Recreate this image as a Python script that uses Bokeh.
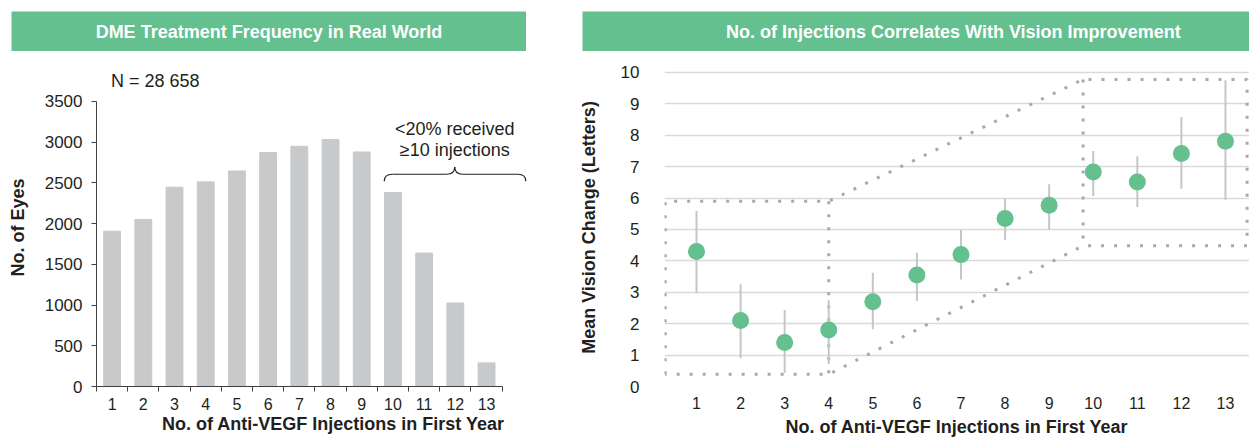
from bokeh.plotting import figure
from bokeh.layouts import row, column
from bokeh.models import FixedTicker, Spacer, Range1d
from bokeh.core.properties import value
from bokeh.embed import file_html
from bokeh.resources import INLINE

# ---------------- data ----------------
injections = [1, 2, 3, 4, 5, 6, 7, 8, 9, 10, 11, 12, 13]
eyes = [1907, 2051, 2447, 2512, 2646, 2872, 2949, 3031, 2879, 2382, 1638, 1025, 290]
vision_mean = [4.3, 2.1, 1.4, 1.8, 2.7, 3.55, 4.2, 5.35, 5.77, 6.83, 6.51, 7.42, 7.81]
vision_low = [2.97, 0.9, 0.43, 0.72, 1.82, 2.72, 3.41, 4.66, 4.98, 6.07, 5.72, 6.3, 5.95]
vision_high = [5.59, 3.26, 2.44, 2.75, 3.62, 4.26, 4.98, 5.99, 6.44, 7.5, 7.33, 8.58, 9.75]

eyes_ticks = [0, 500, 1000, 1500, 2000, 2500, 3000, 3500]
vision_ticks = [0, 1, 2, 3, 4, 5, 6, 7, 8, 9, 10]

left_title = "DME Treatment Frequency in Real World"
right_title = "No. of Injections Correlates With Vision Improvement"
x_title = "No. of Anti-VEGF Injections in First Year"
left_y_title = "No. of Eyes"
right_y_title = "Mean Vision Change (Letters)"
n_note = "N = 28 658"
bracket_note = ["<20% received", "\u226510 injections"]

# dotted guide (two boxes joined by a funnel)
low_box_x = [0.29, 4.0]
low_box_y = [0.39, 5.9]
high_box_x = [9.77, 13.49]
high_box_y = [4.48, 9.78]

# brace over the >=10 bars
brace_x = [9.72, 11.98, 14.26]   # left end, peak, right end
brace_y = [2520, 2606, 2695]     # ends, body, peak
note_x = [11.98, 11.98, 2.38]
note_y = [3166, 2908, 3745]

# ---------------- style ----------------
FONT = "Liberation Sans"
TXT = "#231f20"
GREEN = "#64c08e"
BAR = "#c8c9cb"
GRID = "#d9d9d9"
DOT = "#a9a9a9"


def banner(w, text, xpos):
    b = figure(width=w, height=40, x_range=Range1d(0, 1), y_range=Range1d(0, 1),
               toolbar_location=None, output_backend="svg", min_border=0,
               x_axis_location=None, y_axis_location=None,
               background_fill_color=GREEN, border_fill_color=GREEN,
               outline_line_color=None)
    b.grid.visible = False
    b.text(x=[xpos], y=[0.5], text=[text], text_color="white",
           text_font=value(FONT), text_font_style="bold", text_font_size="18px",
           text_align="center", text_baseline="middle")
    return b


def style_axis(ax, size):
    ax.major_label_text_font = FONT
    ax.major_label_text_font_size = size
    ax.major_label_text_color = TXT
    ax.axis_label_text_font = FONT
    ax.axis_label_text_font_size = "18px"
    ax.axis_label_text_font_style = "bold"
    ax.axis_label_text_color = TXT


# ---------------- left: bar chart ----------------
p1 = figure(width=570, height=388, x_range=Range1d(0.5, 15.69), y_range=Range1d(0, 3904),
            toolbar_location=None, output_backend="svg",
            min_border_left=96, min_border_right=0, min_border_top=17, min_border_bottom=52,
            outline_line_color=None, background_fill_color="white")
p1.grid.visible = False
p1.vbar(x=injections, top=eyes, width=0.54, color=BAR)

xa = p1.xaxis[0]
xa.bounds = (injections[0] - 0.5, injections[-1] + 0.5)
xa.ticker = FixedTicker(ticks=injections,
                        minor_ticks=[v - 0.5 for v in injections] + [injections[-1] + 0.5])
xa.major_tick_out = 0
xa.major_tick_in = 0
xa.minor_tick_out = 5
xa.minor_tick_in = 0
xa.minor_tick_line_color = "#404040"
xa.axis_line_color = "#404040"
xa.major_label_standoff = 6
xa.axis_label = x_title
xa.axis_label_standoff = 1
style_axis(xa, "16px")

ya = p1.yaxis[0]
ya.bounds = (eyes_ticks[0], eyes_ticks[-1])
ya.ticker = FixedTicker(ticks=eyes_ticks, minor_ticks=[])
ya.major_tick_out = 5
ya.major_tick_in = 0
ya.major_tick_line_color = "#404040"
ya.axis_line_color = "#404040"
ya.major_label_standoff = 9
ya.axis_label = left_y_title
ya.axis_label_standoff = 14
style_axis(ya, "17px")

# brace
lx, mx, rx = brace_x
ey, by, py = brace_y
c = 0.26
p1.quadratic(x0=[lx, mx - c, mx, rx - c], y0=[ey, by, py, by],
             x1=[lx + c, mx, mx + c, rx], y1=[by, py, by, ey],
             cx=[lx, mx, mx, rx], cy=[by, by, by, by],
             line_color=TXT, line_width=1.2)
p1.segment(x0=[lx + c, mx + c], y0=[by, by], x1=[mx - c, rx - c], y1=[by, by],
           line_color=TXT, line_width=1.2)
p1.text(x=note_x, y=note_y, text=bracket_note + [n_note],
        text_font=value(FONT), text_font_size="18px", text_color=TXT,
        text_align="center", text_baseline="middle")

# ---------------- right: mean change with error bars ----------------
p2 = figure(width=679, height=388, x_range=Range1d(0.274, 13.545), y_range=Range1d(0, 10.127),
            toolbar_location=None, output_backend="svg",
            min_border_left=94, min_border_right=0, min_border_top=17, min_border_bottom=52,
            outline_line_color=None, background_fill_color="white")
p2.xgrid.visible = False
p2.ygrid.ticker = FixedTicker(ticks=vision_ticks)
p2.ygrid.grid_line_color = GRID
p2.ygrid.grid_line_width = 1.3

# dotted guide
bx0, bx1 = low_box_x
by0, by1 = low_box_y
hx0, hx1 = high_box_x
hy0, hy1 = high_box_y
p2.multi_line(xs=[[bx0, bx0, bx1, hx0, hx1, hx1, hx0, bx1, bx0], [bx1, bx1], [hx0, hx0]],
              ys=[[by0, by1, by1, hy1, hy1, hy0, hy0, by0, by0], [by1, by0], [hy1, hy0]],
              line_color=DOT, line_width=3, line_dash="3 10")

p2.segment(x0=injections, y0=vision_low, x1=injections, y1=vision_high,
           line_color="#c6c6c6", line_width=2)
p2.scatter(x=injections, y=vision_mean, size=17, fill_color=GREEN, line_color=None)

xb = p2.xaxis[0]
xb.ticker = FixedTicker(ticks=injections, minor_ticks=[])
xb.axis_line_color = None
xb.major_tick_line_color = None
xb.minor_tick_line_color = None
xb.major_label_standoff = 4
xb.axis_label = x_title
xb.axis_label_standoff = 5
style_axis(xb, "16px")

yb = p2.yaxis[0]
yb.ticker = FixedTicker(ticks=vision_ticks, minor_ticks=[])
yb.axis_line_color = None
yb.major_tick_line_color = None
yb.minor_tick_line_color = None
yb.major_label_standoff = 19
yb.axis_label = right_y_title
yb.axis_label_standoff = 19
style_axis(yb, "17px")

# ---------------- layout ----------------
top = row(Spacer(width=11, height=40), banner(515, left_title, 0.5),
          Spacer(width=56, height=40), banner(667, right_title, 0.556))
bottom = row(p1, p2)
layout = column(Spacer(width=1249, height=11), top, bottom)

open("out.html", "w").write(file_html(layout, INLINE))
